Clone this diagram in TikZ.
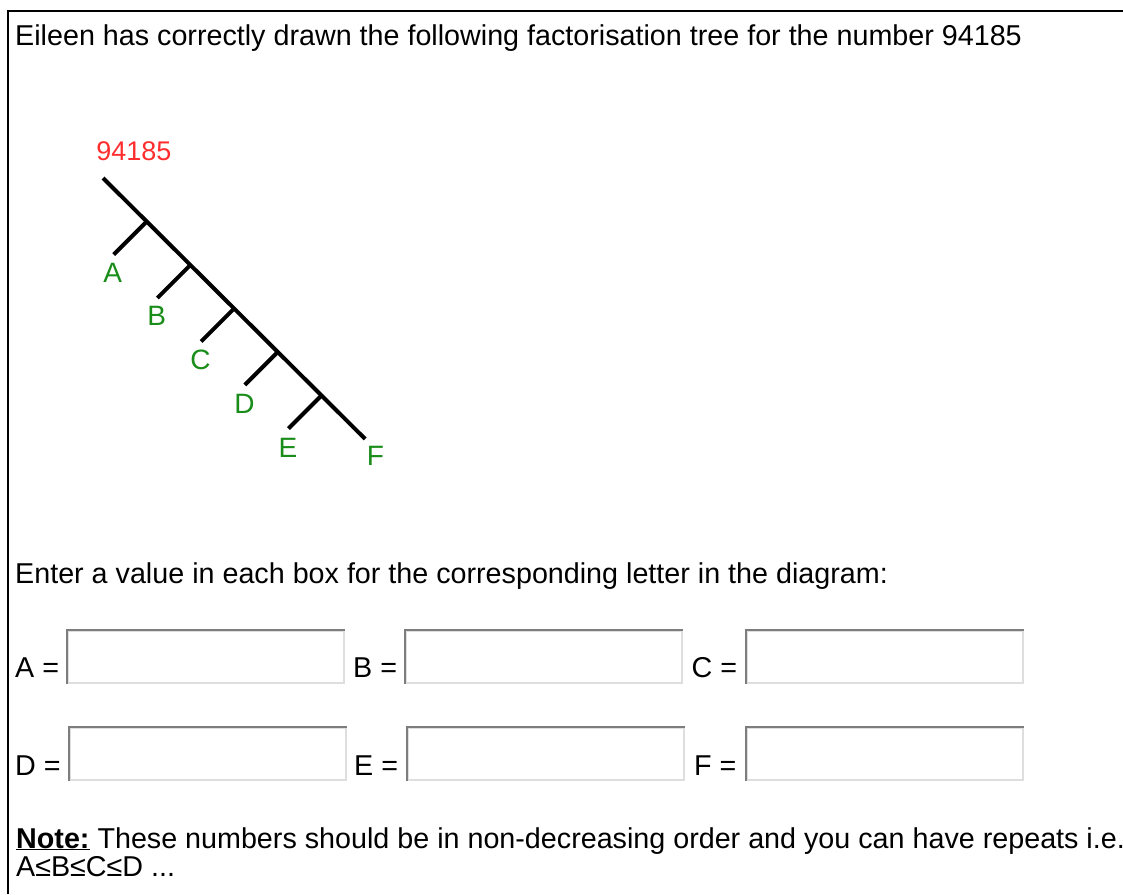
\documentclass[tikz,border=0pt]{standalone}
\usepackage{fontspec}
\setmainfont{Liberation Sans}
\usepackage{xcolor}
\usepackage{tikz}
\usetikzlibrary{calc}
\definecolor{rootred}{RGB}{255,45,45}
\definecolor{leafgreen}{RGB}{25,140,25}
\definecolor{fielddark}{RGB}{125,125,125}
\definecolor{fieldlight}{RGB}{222,222,222}

\begin{document}
\begin{tikzpicture}[x=1pt, y=-1pt,
    txt/.style={anchor=base west, inner sep=0pt, font=\fontsize{28.7}{30}\selectfont},
    leaf/.style={inner sep=0pt, text=leafgreen, font=\fontsize{28}{28}\selectfont},
    field/.style={draw=fieldlight, line width=1.5pt, anchor=north west, inner sep=0pt,
                  minimum width=276pt, minimum height=52pt},
    fieldedge/.style={draw=fielddark, line width=2.6pt},
    branch/.style={line width=4pt}]
    \useasboundingbox (0,0) rectangle (1123,894);
    \draw[line width=2pt] (1123,11) -- (8,11) -- (8,894);

    \node[txt] (title) at (15,45) {Eileen has correctly drawn the following factorisation tree for the number 94185};

    % factor tree
    \coordinate (top) at (103,178);
    \coordinate (n1) at (146.7,221.5);
    \coordinate (n2) at (190.4,265);
    \coordinate (n3) at (234.1,308.5);
    \coordinate (n4) at (277.8,352);
    \coordinate (n5) at (321.5,395.5);
    \coordinate (bot) at (365.2,439);
    \coordinate (eA) at ($(n1)+(-33,33)$);
    \coordinate (eB) at ($(n2)+(-33,33)$);
    \coordinate (eC) at ($(n3)+(-33,33)$);
    \coordinate (eD) at ($(n4)+(-33,33)$);
    \coordinate (eE) at ($(n5)+(-33,33)$);
    \draw[branch] (top) -- (bot);
    \draw[branch] (n1) -- (eA);
    \draw[branch] (n2) -- (eB);
    \draw[branch] (n3) -- (eC);
    \draw[branch] (n4) -- (eD);
    \draw[branch] (n5) -- (eE);
    \node[inner sep=0pt, text=rootred, font=\fontsize{27}{27}\selectfont] (root) at (133.8,151) {94185};
    \node[leaf] (labA) at (112.8,273) {A};
    \node[leaf] (labB) at (156.7,316) {B};
    \node[leaf] (labC) at (200.5,360) {C};
    \node[leaf] (labD) at (244.5,404) {D};
    \node[leaf] (labE) at (288,447.5) {E};
    \node[leaf] (labF) at (375.5,456) {F};

    \node[txt] (ask) at (15,583) {Enter a value in each box for the corresponding letter in the diagram:};

    % answer boxes
    \node[txt] (lA) at (15,677) {A =};
    \node[txt] (lB) at (353,677) {B =};
    \node[txt] (lC) at (691.5,677) {C =};
    \node[txt] (lD) at (15,775) {D =};
    \node[txt] (lE) at (354,775) {E =};
    \node[txt] (lF) at (694,775) {F =};
    \node[field] (bA) at (67,630) {};
    \node[field] (bB) at (405,630) {};
    \node[field] (bC) at (746,630) {};
    \node[field] (bD) at (69,727) {};
    \node[field] (bE) at (407,727) {};
    \node[field] (bF) at (746,727) {};
    \draw[fieldedge] (bA.south west) -- (bA.north west) -- (bA.north east);
    \draw[fieldedge] (bB.south west) -- (bB.north west) -- (bB.north east);
    \draw[fieldedge] (bC.south west) -- (bC.north west) -- (bC.north east);
    \draw[fieldedge] (bD.south west) -- (bD.north west) -- (bD.north east);
    \draw[fieldedge] (bE.south west) -- (bE.north west) -- (bE.north east);
    \draw[fieldedge] (bF.south west) -- (bF.north west) -- (bF.north east);

    \node[txt] (note) at (16,848) {\textbf{\underline{Note:}} These numbers should be in non-decreasing order and you can have repeats i.e.};
    \node[txt] (note2) at (16,876) {A≤B≤C≤D ...};
\end{tikzpicture}
\end{document}
